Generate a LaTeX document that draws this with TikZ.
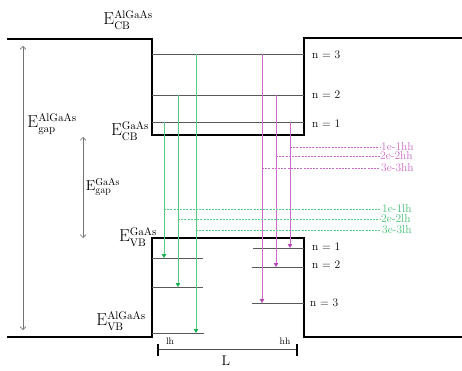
\documentclass[tikz,border=0pt]{standalone}
\usepackage{tikz}
\usetikzlibrary{positioning}
\usetikzlibrary{arrows.meta}

\definecolor{lhgreen}{RGB}{85,205,130}
\definecolor{lhtip}{RGB}{20,175,80}
\definecolor{hhpink}{RGB}{205,105,200}
\definecolor{hhtip}{RGB}{185,70,180}

\begin{document}
\begin{tikzpicture}[
        x=1pt, y=-1pt,
        >=stealth,
        band/.style={line width=2.3pt, black, line join=miter},
        level/.style={draw=black!65, line width=0.7pt},
        gaparrow/.style={draw=black!55, line width=0.6pt, {Straight Barb[length=3pt,width=6pt]}-{Straight Barb[length=3pt,width=6pt]}},
        lhtrans/.style={draw=lhgreen, line width=0.9pt, -{Triangle[length=4pt,width=4.5pt,color=lhtip]}},
        hhtrans/.style={draw=hhpink, line width=0.9pt, -{Triangle[length=4pt,width=4.5pt,color=hhtip]}},
        lhdash/.style={draw=lhgreen, line width=0.6pt, dash pattern=on 2pt off 1.2pt},
        hhdash/.style={draw=hhpink, line width=0.6pt, dash pattern=on 2pt off 1.2pt},
        energy/.style={inner sep=0pt, font=\fontsize{16}{18}\selectfont},
        nlabel/.style={anchor=west, inner sep=0pt, font=\fontsize{11.5}{13}\selectfont},
        lhtext/.style={anchor=west, inner sep=0pt, text=lhtip!80, font=\fontsize{11.5}{13}\selectfont},
        hhtext/.style={anchor=west, inner sep=0pt, text=hhpink, font=\fontsize{11.5}{13}\selectfont}
    ]
    \useasboundingbox (0,0) rectangle (462,371);

    % band edges
    \draw[band] (7,39) -- (152,39) -- (152,135) -- (304,135) -- (304,38) -- (462,38);
    \draw[band] (7,337) -- (152,337) -- (152,238) -- (304,238) -- (304,337) -- (462,337);

    % confined levels
    \coordinate (e3) at (152,54);
    \coordinate (e2) at (152,95);
    \coordinate (e1) at (152,122);
    \draw[level] (e3) -- ++(152,0);
    \draw[level] (e2) -- ++(152,0);
    \draw[level] (e1) -- ++(152,0);

    \coordinate (lh1) at (152,258);
    \coordinate (lh2) at (152,287);
    \coordinate (lh3) at (152,333);
    \draw[level] (lh1) -- ++(51,0);
    \draw[level] (lh2) -- ++(51,0);
    \draw[level] (lh3) -- ++(52,0);

    \coordinate (hh1) at (304,248);
    \coordinate (hh2) at (304,267);
    \coordinate (hh3) at (304,303);
    \draw[level] (hh1) -- ++(-51,0);
    \draw[level] (hh2) -- ++(-52,0);
    \draw[level] (hh3) -- ++(-52,0);

    \node[nlabel] (nc3) at (312,55) {n = 3};
    \node[nlabel] (nc2) at (312,95) {n = 2};
    \node[nlabel] (nc1) at (312,124) {n = 1};
    \node[nlabel] (nv1) at (312,247) {n = 1};
    \node[nlabel] (nv2) at (312,265) {n = 2};
    \node[nlabel] (nv3) at (310,303) {n = 3};

    % electron to light hole
    \coordinate (a1) at (164,0);
    \coordinate (a2) at (178,0);
    \coordinate (a3) at (196,0);
    \draw[lhtrans] (e1 -| a1) -- (lh1 -| a1);
    \draw[lhtrans] (e2 -| a2) -- (lh2 -| a2);
    \draw[lhtrans] (e3 -| a3) -- (lh3 -| a3);

    % electron to heavy hole
    \coordinate (b1) at (290,0);
    \coordinate (b2) at (276,0);
    \coordinate (b3) at (262,0);
    \draw[hhtrans] (e1 -| b1) -- (hh1 -| b1);
    \draw[hhtrans] (e2 -| b2) -- (hh2 -| b2);
    \draw[hhtrans] (e3 -| b3) -- (hh3 -| b3);

    % transition labels
    \node[hhtext] (t1hh) at (381,147) {1e-1hh};
    \node[hhtext] (t2hh) at (380,156) {2e-2hh};
    \node[hhtext] (t3hh) at (381,168) {3e-3hh};
    \draw[hhdash] (t1hh.west -| b1) -- (t1hh.west);
    \draw[hhdash] (t2hh.west -| b2) -- (t2hh.west);
    \draw[hhdash] (t3hh.west -| b3) -- ([xshift=-2pt]t3hh.west);

    \node[lhtext] (t1lh) at (382,209) {1e-1lh};
    \node[lhtext] (t2lh) at (381,219) {2e-2lh};
    \node[lhtext] (t3lh) at (382,230) {3e-3lh};
    \draw[lhdash] (t1lh.west -| a1) -- ([xshift=-2pt]t1lh.west);
    \draw[lhdash] (t2lh.west -| a2) -- ([xshift=-1pt]t2lh.west);
    \draw[lhdash] (t3lh.west -| a3) -- ([xshift=-2pt]t3lh.west);

    % band edge labels
    \node[energy] (cbAl) at (128,20) {$\mathrm{E}^{\mathrm{AlGaAs}}_{\mathrm{CB}}$};
    \node[energy] (cbGa) at (130,131) {$\mathrm{E}^{\mathrm{GaAs}}_{\mathrm{CB}}$};
    \node[energy] (vbGa) at (138,237) {$\mathrm{E}^{\mathrm{GaAs}}_{\mathrm{VB}}$};
    \node[energy] (vbAl) at (121,321) {$\mathrm{E}^{\mathrm{AlGaAs}}_{\mathrm{VB}}$};

    % gaps
    \coordinate (gAlTop) at (23,46);
    \coordinate (gAlBot) at (23,330);
    \coordinate (gGaTop) at (83,137);
    \coordinate (gGaBot) at (83,238);
    \draw[gaparrow] (gAlTop) -- (gAlBot);
    \draw[gaparrow] (gGaTop) -- (gGaBot);
    \node[energy] (gapAl) at (52,124) {$\mathrm{E}^{\mathrm{AlGaAs}}_{\mathrm{gap}}$};
    \node[energy, font=\fontsize{14}{16}\selectfont] (gapGa) at (103,187) {$\mathrm{E}^{\mathrm{GaAs}}_{\mathrm{gap}}$};

    % well width
    \coordinate (wL) at (158,349);
    \coordinate (wR) at (297,349);
    \draw[line width=0.7pt, black!70] (wL) -- (wR);
    \draw[line width=1.4pt] ([yshift=-7pt]wL) -- ([yshift=5pt]wL);
    \draw[line width=1.4pt] ([yshift=-7pt]wR) -- ([yshift=5pt]wR);
    \node[font=\fontsize{9.5}{10}\selectfont, inner sep=0pt] (lhlab) at (170,341) {lh};
    \node[font=\fontsize{9.5}{10}\selectfont, inner sep=0pt] (hhlab) at (285,341) {hh};
    \node[font=\fontsize{14}{16}\selectfont, inner sep=0pt] (wlab) at (226,361) {L};
\end{tikzpicture}
\end{document}
